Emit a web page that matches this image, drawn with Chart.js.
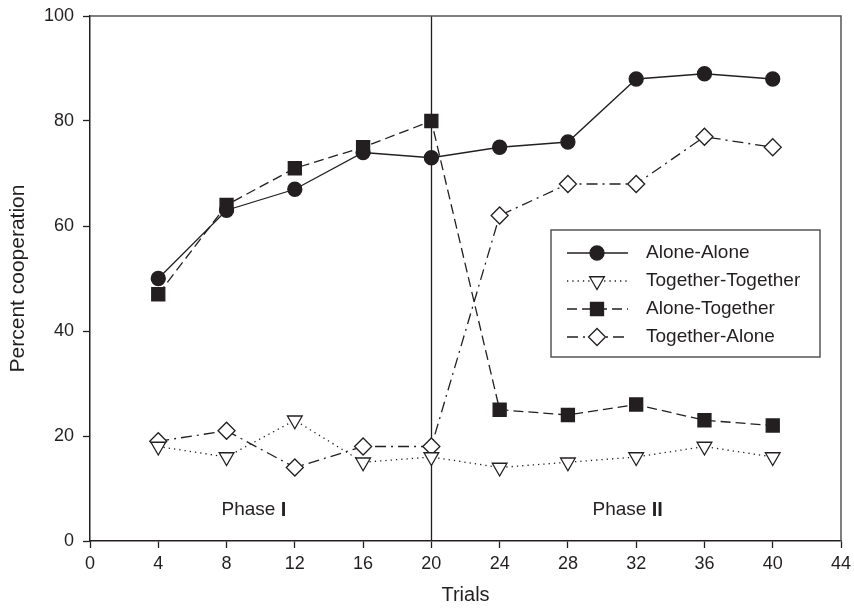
<!DOCTYPE html>
<html>
<head>
<meta charset="utf-8">
<title>Percent cooperation by trials</title>
<script src="https://cdn.jsdelivr.net/npm/chart.js@4/dist/chart.umd.min.js"></script>
<style>
  html, body { margin: 0; padding: 0; background: #fff; }
  #wrap { width: 854px; height: 610px; position: relative; }
</style>
</head>
<body>
<div id="wrap"><canvas id="chart"></canvas></div>
<script>
// trial blocks and percent cooperation per condition
const TRIALS = [4, 8, 12, 16, 20, 24, 28, 32, 36, 40];
const ALONE_ALONE = [50, 63, 67, 74, 73, 75, 76, 88, 89, 88];
const TOGETHER_TOGETHER = [18, 16, 23, 15, 16, 14, 15, 16, 18, 16];
const ALONE_TOGETHER = [47, 64, 71, 75, 80, 25, 24, 26, 23, 22];
const TOGETHER_ALONE = [19, 21, 14, 18, 18, 62, 68, 68, 77, 75];

const SERIES_NAMES = ['Alone-Alone', 'Together-Together', 'Alone-Together', 'Together-Alone'];
const X_TICKS = [0, 4, 8, 12, 16, 20, 24, 28, 32, 36, 40, 44];
const Y_TICKS = [0, 20, 40, 60, 80, 100];
const PHASE_SPLIT = 20;
const PHASES = [
    { name: 'Phase ', numeral: 'I', x: 9.6, y: 5.9 },
    { name: 'Phase ', numeral: 'II', x: 31.5, y: 5.9 },
];

const INK = '#231f20';
const FONT = "'Liberation Sans', Arial, Helvetica, sans-serif";

Chart.defaults.font.family = FONT;
Chart.defaults.color = INK;

function points(values) {
    return TRIALS.map((t, i) => ({ x: t, y: values[i] }));
}

const styles = [
    { dash: [], pointStyle: 'circle', radius: 7, fill: INK, rotation: 0 },
    { dash: [1.3, 4], pointStyle: 'triangle', radius: 8.5, fill: '#fff', rotation: 180 },
    { dash: [10, 5], pointStyle: 'rect', radius: 9.2, fill: INK, rotation: 0 },
    { dash: [11, 5, 2, 5], pointStyle: 'rectRot', radius: 8.5, fill: '#fff', rotation: 0 },
];

const seriesValues = [ALONE_ALONE, TOGETHER_TOGETHER, ALONE_TOGETHER, TOGETHER_ALONE];

const datasets = seriesValues.map((vals, i) => ({
    label: SERIES_NAMES[i],
    data: points(vals),
    borderColor: INK,
    borderWidth: 1.3,
    borderDash: styles[i].dash,
    pointStyle: styles[i].pointStyle,
    pointRadius: styles[i].radius,
    pointRotation: styles[i].rotation,
    pointBackgroundColor: styles[i].fill,
    pointBorderColor: INK,
    pointBorderWidth: 1.3,
    tension: 0,
    fill: false,
}));

// frame, phase divider, phase captions and the boxed legend
const decorations = {
    id: 'decorations',
    beforeDatasetsDraw(chart) {
        const { ctx, chartArea: a, scales: { x } } = chart;
        const px = Math.round(x.getPixelForValue(PHASE_SPLIT)) + 0.5;
        ctx.save();
        ctx.strokeStyle = INK;
        ctx.lineWidth = 1.3;
        ctx.beginPath();
        ctx.moveTo(px, a.top);
        ctx.lineTo(px, a.bottom);
        ctx.stroke();

        ctx.strokeStyle = '#555';
        ctx.lineWidth = 1.5;
        ctx.beginPath();
        ctx.moveTo(a.left, a.top);
        ctx.lineTo(a.right, a.top);
        ctx.lineTo(a.right, a.bottom);
        ctx.stroke();
        ctx.restore();
    },
    afterDraw(chart) {
        const { ctx, scales: { x, y } } = chart;
        ctx.save();
        ctx.fillStyle = INK;
        ctx.textBaseline = 'middle';
        PHASES.forEach(p => {
            const regular = '19px ' + FONT;
            const bold = 'bold 20px ' + FONT;
            ctx.font = regular;
            const w1 = ctx.measureText(p.name).width;
            ctx.font = bold;
            const w2 = ctx.measureText(p.numeral).width;
            const cx = x.getPixelForValue(p.x);
            const cy = y.getPixelForValue(p.y);
            const left = cx - (w1 + w2) / 2;
            ctx.textAlign = 'left';
            ctx.font = regular;
            ctx.fillText(p.name, left, cy);
            ctx.font = bold;
            ctx.fillText(p.numeral, left + w1, cy);
        });

        // legend box
        const box = { left: 551, top: 230, right: 820, bottom: 357 };
        ctx.fillStyle = '#fff';
        ctx.fillRect(box.left, box.top, box.right - box.left, box.bottom - box.top);
        ctx.strokeStyle = '#555';
        ctx.lineWidth = 1.5;
        ctx.strokeRect(box.left, box.top, box.right - box.left, box.bottom - box.top);

        const rowY = [253, 281, 309, 337];
        chart.data.datasets.forEach((ds, i) => {
            const yy = rowY[i];
            ctx.strokeStyle = INK;
            ctx.lineWidth = ds.borderWidth;
            ctx.setLineDash(ds.borderDash);
            ctx.beginPath();
            ctx.moveTo(567, yy);
            ctx.lineTo(628, yy);
            ctx.stroke();
            ctx.setLineDash([]);
            ctx.fillStyle = ds.pointBackgroundColor;
            ctx.strokeStyle = INK;
            ctx.lineWidth = ds.pointBorderWidth;
            Chart.helpers.drawPoint(ctx, {
                pointStyle: ds.pointStyle,
                radius: ds.pointRadius,
                rotation: ds.pointRotation,
                borderWidth: ds.pointBorderWidth,
            }, 597, yy);
            ctx.fillStyle = INK;
            ctx.font = '19px ' + FONT;
            ctx.textAlign = 'left';
            ctx.fillText(ds.label, 646, yy);
        });
        ctx.restore();
    }
};

new Chart(document.getElementById('chart'), {
    type: 'line',
    data: { datasets },
    options: {
        responsive: true,
        maintainAspectRatio: false,
        animation: false,
        layout: { padding: { top: 16, right: 13, left: 0, bottom: 0 } },
        plugins: {
            legend: { display: false },
            tooltip: { enabled: false },
        },
        scales: {
            x: {
                type: 'linear',
                min: 0,
                max: 44,
                afterBuildTicks: s => { s.ticks = X_TICKS.map(v => ({ value: v })); },
                afterFit: s => { s.height = 69; s.paddingLeft = 0; s.paddingRight = 0; },
                ticks: { font: { size: 18 }, color: INK, padding: 5, maxRotation: 0 },
                grid: { drawOnChartArea: false, drawTicks: true, tickLength: 7, tickWidth: 1.3, tickColor: INK },
                border: { color: INK, width: 1.5 },
                title: { display: true, text: 'Trials', font: { size: 20 }, color: INK, padding: { top: 0, bottom: 3 } },
            },
            y: {
                min: 0,
                max: 100,
                afterBuildTicks: s => { s.ticks = Y_TICKS.map(v => ({ value: v })); },
                afterFit: s => { s.width = 90; s.paddingTop = 0; s.paddingBottom = 0; },
                ticks: { font: { size: 18 }, color: INK, padding: 9 },
                grid: { drawOnChartArea: false, drawTicks: true, tickLength: 7, tickWidth: 1.3, tickColor: INK },
                border: { color: INK, width: 1.5 },
                title: { display: true, text: 'Percent cooperation', font: { size: 21 }, color: INK, padding: { top: 6, bottom: 0 } },
            },
        },
    },
    plugins: [decorations],
});
</script>
</body>
</html>
